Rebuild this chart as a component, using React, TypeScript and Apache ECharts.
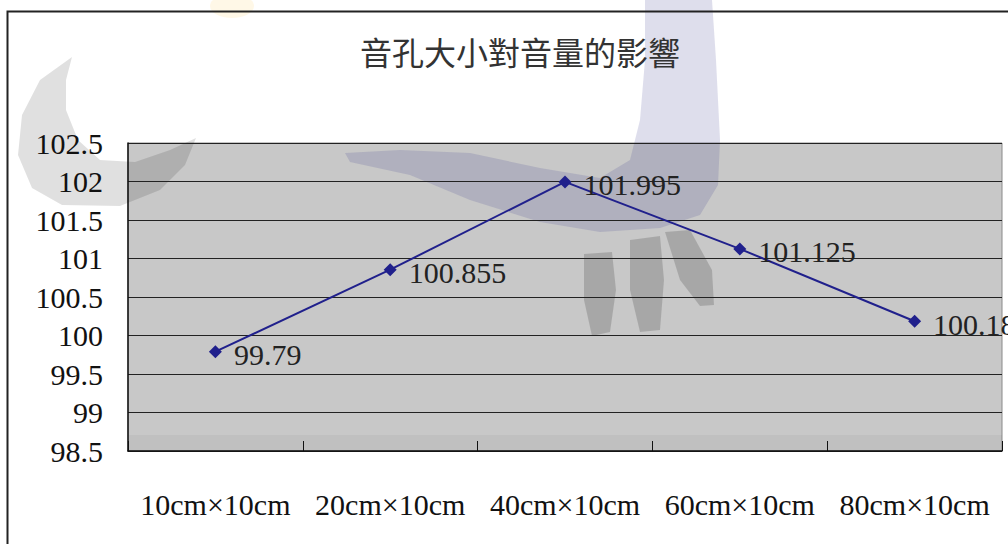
import React, { useEffect, useRef } from "react";
import * as echarts from "echarts";

const categories = ["10cm×10cm", "20cm×10cm", "40cm×10cm", "60cm×10cm", "80cm×10cm"];
const volumes = [99.79, 100.855, 101.995, 101.125, 100.185];
const titleText = "音孔大小對音量的影響";
const yMin = 98.5;
const yMax = 102.5;
const yStep = 0.5;

const SERIF = "Liberation Serif";

export default function App() {
  const ref = useRef<HTMLDivElement>(null);
  useEffect(() => {
    if (!ref.current) return;
    const chart = echarts.init(ref.current, null, { renderer: "svg" });
    const gL = 128, gT = 143, gW = 874, gH = 308;
    chart.setOption({
      animation: false,
      backgroundColor: "#ffffff",
      textStyle: { fontFamily: SERIF },
      title: {
        text: titleText,
        left: 355,
        top: 30,
        textStyle: {
          fontFamily: "Noto Sans CJK TC",
          fontSize: 32,
          fontWeight: "normal",
          color: "#333333",
        },
      },
      grid: { left: gL, top: gT, width: gW, height: gH, show: false },
      graphic: [
        { type: "rect", z: -20, silent: true, shape: { x: gL, y: gT, width: gW, height: gH }, style: { fill: "#c8c8c8", stroke: "#8a8a8a", lineWidth: 1 } },
        { type: "rect", z: -19, silent: true, shape: { x: gL, y: 435, width: gW, height: 16 }, style: { fill: "rgba(0,0,0,0.04)" } },
        { type: "polygon", z: -18, silent: true, shape: { points: [[72, 57], [40, 80], [22, 115], [18, 155], [32, 188], [62, 205], [120, 206], [160, 190], [185, 165], [196, 138], [170, 150], [135, 162], [100, 160], [78, 140], [66, 110], [66, 80]] }, style: { fill: "rgba(0,0,0,0.12)" } },
        { type: "polygon", z: -18, silent: true, shape: { points: [[645, 0], [712, 0], [716, 60], [720, 140], [718, 185], [700, 215], [660, 228], [600, 232], [540, 222], [470, 200], [410, 175], [350, 162], [345, 153], [400, 150], [470, 153], [540, 168], [600, 178], [630, 160], [640, 120], [645, 60]] }, style: { fill: "rgba(60,60,140,0.17)" } },
        { type: "polygon", z: -18, silent: true, shape: { points: [[584, 254], [612, 252], [616, 290], [610, 332], [592, 336], [584, 300]] }, style: { fill: "rgba(0,0,0,0.16)" } },
        { type: "polygon", z: -18, silent: true, shape: { points: [[630, 240], [660, 236], [664, 280], [660, 330], [640, 332], [630, 290]] }, style: { fill: "rgba(0,0,0,0.16)" } },
        { type: "polygon", z: -18, silent: true, shape: { points: [[665, 232], [690, 230], [712, 270], [714, 305], [700, 306], [680, 280]] }, style: { fill: "rgba(0,0,0,0.16)" } },
        { type: "ellipse", z: -18, silent: true, shape: { cx: 232, cy: 6, rx: 22, ry: 12 }, style: { fill: "rgba(255,200,60,0.12)" } },
        { type: "rect", z: 10, silent: true, shape: { x: 7.5, y: 11.5, width: 1010, height: 540 }, style: { fill: "none", stroke: "#222222", lineWidth: 2 } },
      ],
      xAxis: {
        type: "category",
        data: categories,
        boundaryGap: true,
        axisLine: { show: true, lineStyle: { color: "#111111", width: 1.5 } },
        axisTick: { show: true, inside: true, length: 10, interval: 0, lineStyle: { color: "#111111" } },
        axisLabel: { interval: 0, margin: 38, fontFamily: SERIF, fontSize: 30, color: "#111111" },
        splitLine: { show: false },
      },
      yAxis: {
        type: "value",
        min: yMin,
        max: yMax,
        interval: yStep,
        axisLine: { show: true, lineStyle: { color: "#111111", width: 1.5 } },
        axisTick: { show: false },
        axisLabel: { margin: 25, fontFamily: SERIF, fontSize: 30, color: "#111111", formatter: (v: number) => String(v) },
        splitLine: { show: true, lineStyle: { color: "#222222", width: 1 } },
      },
      series: [
        {
          type: "line",
          data: volumes,
          symbol: "diamond",
          symbolSize: 13,
          itemStyle: { color: "#20208c" },
          lineStyle: { color: "#20208c", width: 2 },
          label: {
            show: true,
            position: "right",
            distance: 12,
            offset: [0, 3],
            fontFamily: SERIF,
            fontSize: 30,
            color: "#222222",
            formatter: (p: any) => String(p.value),
          },
        },
      ],
    });
    return () => chart.dispose();
  }, []);
  return <div ref={ref} style={{ position: "absolute", left: 0, top: 0, width: 1008, height: 544 }} />;
}
